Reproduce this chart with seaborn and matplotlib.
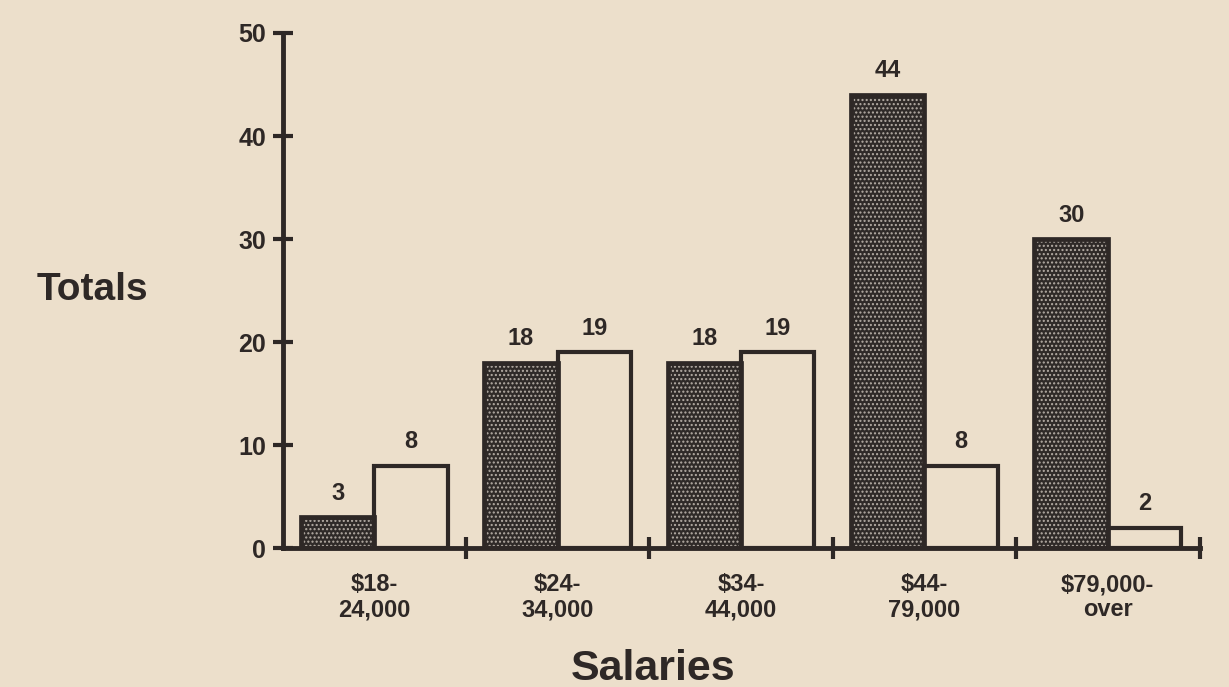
import matplotlib
matplotlib.use("Agg")
import matplotlib.pyplot as plt
from matplotlib.patches import Rectangle
from matplotlib.ticker import FixedLocator
import pandas as pd
import seaborn as sns

# values
salary_bands = ["$18-\n24,000", "$24-\n34,000", "$34-\n44,000", "$44-\n79,000", "$79,000-\nover"]
dark_totals = [3, 18, 18, 44, 30]
white_totals = [8, 19, 19, 8, 2]
series_names = ["dark", "white"]

PAPER = "#ecdfcb"
INK = "#2e2826"

df = pd.DataFrame({
    "band": salary_bands * 2,
    "total": dark_totals + white_totals,
    "series": [series_names[0]] * len(salary_bands) + [series_names[1]] * len(salary_bands),
})

sns.set_style("white")
plt.rcParams["font.family"] = ["Liberation Sans", "DejaVu Sans"]
plt.rcParams["font.weight"] = "bold"

fig = plt.figure(figsize=(12.29, 6.87), dpi=100, facecolor=PAPER)
ax = fig.add_axes([0.230, 0.202, 0.746, 0.750])
ax.set_facecolor(PAPER)

sns.barplot(
    data=df, x="band", y="total", hue="series",
    palette={"dark": "#2f2a28", "white": PAPER}, saturation=1,
    width=0.8, gap=0, legend=False, ax=ax,
)

dark_bars, white_bars = ax.containers[0], ax.containers[1]

# stipple texture on the dark bars, then a black outline on top
for p in dark_bars:
    p.set_hatch("....")
    p.set_edgecolor("#b5ada5")
    p.set_linewidth(0)
    ax.add_patch(Rectangle(p.get_xy(), p.get_width(), p.get_height(),
                           fill=False, edgecolor=INK, linewidth=3.4, zorder=p.get_zorder() + 0.1))
for p in white_bars:
    p.set_edgecolor(INK)
    p.set_linewidth(3.0)

for cont in (dark_bars, white_bars):
    ax.bar_label(cont, padding=9, fontsize=17, color=INK, fontweight="bold")

ax.set_xlim(-0.5, 4.5)
ax.set_ylim(0, 50)
ax.set_yticks([0, 10, 20, 30, 40, 50])
ax.tick_params(axis="y", left=True, direction="inout", length=14, width=3, color=INK,
               labelsize=18, labelcolor=INK, pad=5)
ax.tick_params(axis="x", which="major", bottom=True, length=0, labelsize=17, labelcolor=INK, pad=18)
ax.xaxis.set_minor_locator(FixedLocator([0.5, 1.5, 2.5, 3.5, 4.5]))
ax.tick_params(axis="x", which="minor", bottom=True, direction="inout", length=16, width=3, color=INK)
for lab in ax.get_xticklabels() + ax.get_yticklabels():
    lab.set_fontweight("bold")
for lab in ax.get_xticklabels():
    lab.set_linespacing(1.1)

for side in ("top", "right"):
    ax.spines[side].set_visible(False)
for side in ("left", "bottom"):
    ax.spines[side].set_linewidth(3.5)
    ax.spines[side].set_color(INK)

ax.set_xlabel("")
ax.set_ylabel("")
fig.text(0.531, 0.026, "Salaries", fontsize=31, fontweight="bold", color=INK, ha="center", va="center")
fig.text(0.075, 0.578, "Totals", fontsize=28, fontweight="bold", color=INK, ha="center", va="center")

fig.savefig("out.png", dpi=100, facecolor=PAPER)
